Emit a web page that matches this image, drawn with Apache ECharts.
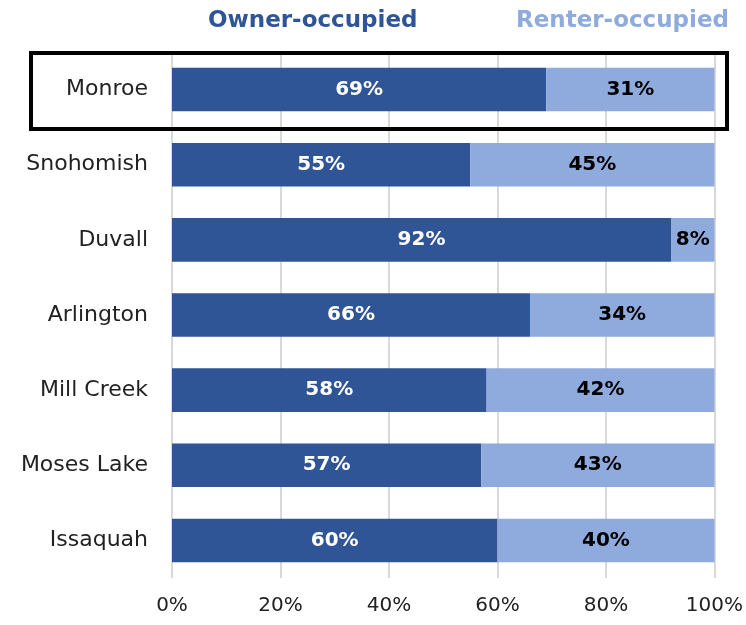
<!DOCTYPE html>
<html>
<head>
<meta charset="utf-8">
<style>
  html, body { margin: 0; padding: 0; background: #fff; }
  #chart { width: 746px; height: 625px; }
</style>
<script src="https://cdn.jsdelivr.net/npm/echarts@6/dist/echarts.min.js"></script>
</head>
<body>
<div id="chart"></div>
<script>
  // top to bottom as in the picture
  const places = ['Monroe', 'Snohomish', 'Duvall', 'Arlington', 'Mill Creek', 'Moses Lake', 'Issaquah'];
  const owner = [69, 55, 92, 66, 58, 57, 60];
  const renter = [31, 45, 8, 34, 42, 43, 40];
  const seriesNames = ['Owner-occupied', 'Renter-occupied'];

  const font = '"DejaVu Sans", sans-serif';
  const dark = '#2F5597';
  const light = '#8FAADC';

  const legendText = { fontSize: 23, fontWeight: 'bold', fontFamily: font };

  const chart = echarts.init(document.getElementById('chart'));
  chart.setOption({
    animation: false,
    textStyle: { fontFamily: font },
    grid: { left: 172, right: 30, top: 52, bottom: 47, containLabel: false },
    legend: [
      {
        top: 5,
        left: 198,
        icon: 'none',
        itemWidth: 0,
        selectedMode: false,
        textStyle: legendText,
        data: [{ name: seriesNames[0], textStyle: { color: dark } }],
      },
      {
        top: 5,
        right: 12,
        icon: 'none',
        itemWidth: 0,
        selectedMode: false,
        textStyle: legendText,
        data: [{ name: seriesNames[1], textStyle: { color: light } }],
      },
    ],
    xAxis: {
      type: 'value',
      min: 0,
      max: 100,
      interval: 20,
      axisLine: { show: false },
      axisTick: { show: false },
      axisLabel: { formatter: '{value}%', color: '#222', fontSize: 20, margin: 18 },
      splitLine: { lineStyle: { color: '#d9d9d9', width: 2 } },
    },
    yAxis: {
      type: 'category',
      data: places,
      inverse: true,
      axisLine: { show: false },
      axisTick: { show: false },
      axisLabel: { color: '#222', fontSize: 22, margin: 24 },
    },
    series: [
      {
        name: seriesNames[0],
        type: 'bar',
        stack: 'all',
        data: owner,
        barCategoryGap: '42%',
        itemStyle: { color: dark },
        label: {
          show: true,
          position: 'inside',
          formatter: '{c}%',
          color: '#fff',
          fontWeight: 'bold',
          fontSize: 20,
        },
      },
      {
        name: seriesNames[1],
        type: 'bar',
        stack: 'all',
        data: renter,
        itemStyle: { color: light },
        label: {
          show: true,
          position: 'inside',
          formatter: '{c}%',
          color: '#000',
          fontWeight: 'bold',
          fontSize: 20,
        },
      },
    ],
    graphic: [
      {
        type: 'rect',
        shape: { x: 31, y: 53, width: 696, height: 76 },
        style: { fill: 'none', stroke: '#000', lineWidth: 4 },
        z: 100,
      },
    ],
  });
</script>
</body>
</html>
